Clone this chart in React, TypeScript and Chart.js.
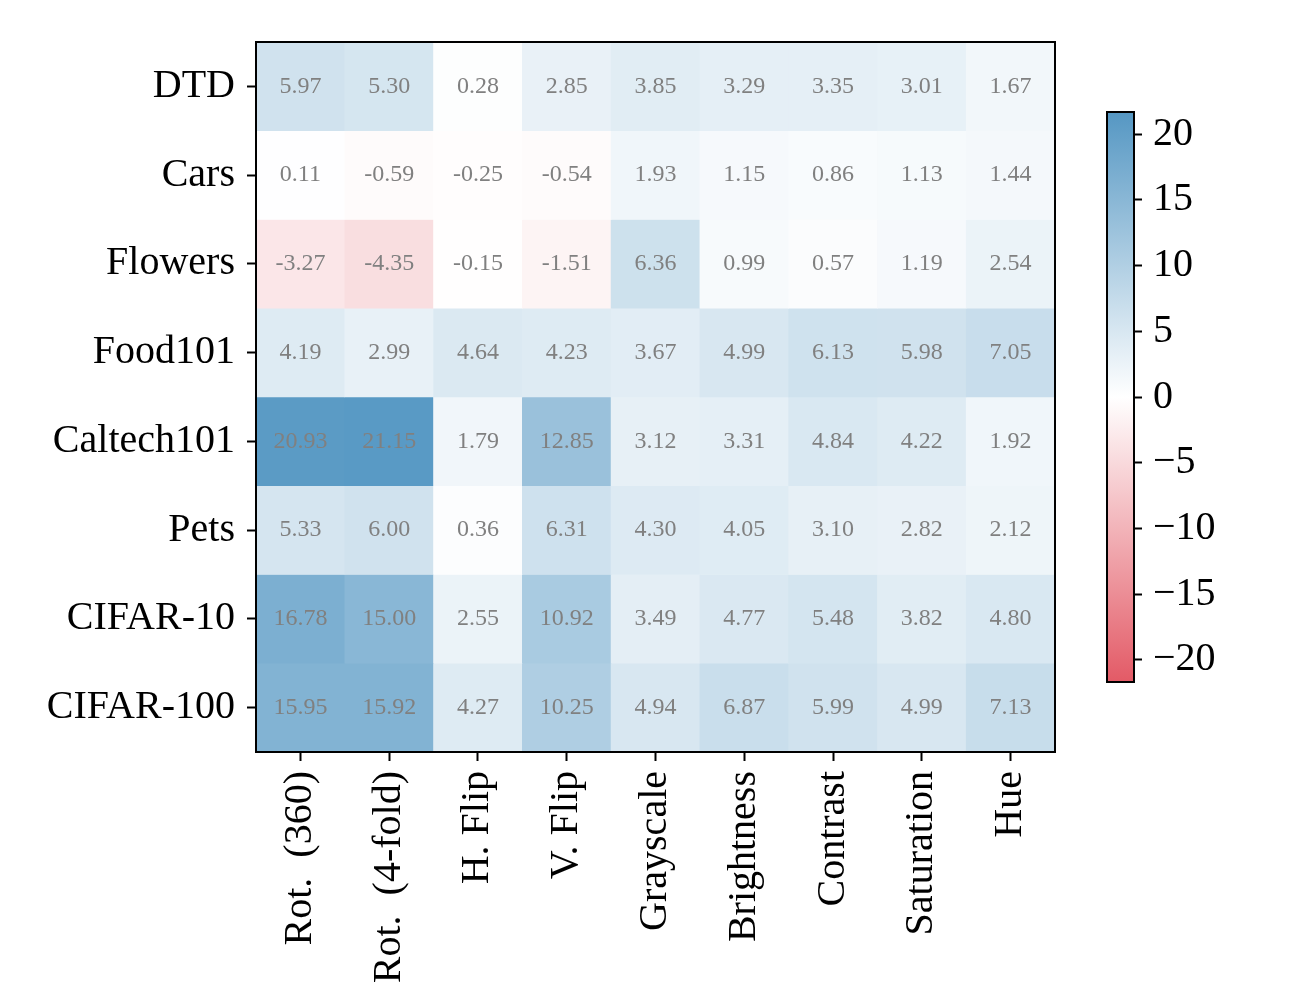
import React, { useEffect, useRef } from 'react';
import { Chart, registerables } from 'chart.js';

Chart.register(...registerables);

const rowNames = ['DTD', 'Cars', 'Flowers', 'Food101', 'Caltech101', 'Pets', 'CIFAR-10', 'CIFAR-100'];
const augmentations = ['Rot.  (360)', 'Rot.  (4-fold)', 'H. Flip', 'V. Flip', 'Grayscale', 'Brightness', 'Contrast', 'Saturation', 'Hue'];

const dtd = [5.97, 5.30, 0.28, 2.85, 3.85, 3.29, 3.35, 3.01, 1.67];
const cars = [0.11, -0.59, -0.25, -0.54, 1.93, 1.15, 0.86, 1.13, 1.44];
const flowers = [-3.27, -4.35, -0.15, -1.51, 6.36, 0.99, 0.57, 1.19, 2.54];
const food101 = [4.19, 2.99, 4.64, 4.23, 3.67, 4.99, 6.13, 5.98, 7.05];
const caltech101 = [20.93, 21.15, 1.79, 12.85, 3.12, 3.31, 4.84, 4.22, 1.92];
const pets = [5.33, 6.00, 0.36, 6.31, 4.30, 4.05, 3.10, 2.82, 2.12];
const cifar10 = [16.78, 15.00, 2.55, 10.92, 3.49, 4.77, 5.48, 3.82, 4.80];
const cifar100 = [15.95, 15.92, 4.27, 10.25, 4.94, 6.87, 5.99, 4.99, 7.13];

const rowValues = [dtd, cars, flowers, food101, caltech101, pets, cifar10, cifar100];
const colorbarTicks = [-20, -15, -10, -5, 0, 5, 10, 15, 20];
const vmax = 21.7;

const NEG = [227, 90, 102];
const POS = [85, 151, 195];
const MID = [255, 255, 255];

const FONT = 'Liberation Serif';

function colorFor(v: number): string {
  const t = Math.max(-1, Math.min(1, v / vmax));
  const end = t < 0 ? NEG : POS;
  const a = Math.abs(t);
  const c = MID.map((m, i) => Math.round(m + (end[i] - m) * a));
  return `rgb(${c[0]},${c[1]},${c[2]})`;
}

const framePlugin = {
  id: 'frame',
  afterDraw(chart: any) {
    const { ctx, chartArea } = chart;
    ctx.save();
    ctx.strokeStyle = '#000';
    ctx.lineWidth = 2;
    ctx.strokeRect(chartArea.left, chartArea.top, chartArea.right - chartArea.left, chartArea.bottom - chartArea.top);
    ctx.restore();
  },
};

const valueLabelPlugin = {
  id: 'valueLabels',
  afterDatasetsDraw(chart: any) {
    const { ctx } = chart;
    ctx.save();
    ctx.font = `24px "${FONT}"`;
    ctx.fillStyle = '#808080';
    ctx.textAlign = 'center';
    ctx.textBaseline = 'middle';
    chart.data.datasets.forEach((ds: any, di: number) => {
      const meta = chart.getDatasetMeta(di);
      meta.data.forEach((el: any, j: number) => {
        const p = el.getCenterPoint();
        const v = rowValues[di][j];
        ctx.fillText(v.toFixed(2), p.x, p.y);
      });
    });
    ctx.restore();
  },
};

export default function App() {
  const mainRef = useRef<HTMLCanvasElement | null>(null);
  const cbRef = useRef<HTMLCanvasElement | null>(null);

  useEffect(() => {
    document.body.style.margin = '0';
    const datasets = rowValues.map((vals, r) => ({
      label: rowNames[r],
      data: vals.map(() => [r, r + 1]),
      backgroundColor: vals.map((v) => colorFor(v)),
      borderWidth: 0,
      categoryPercentage: 1,
      barPercentage: 1,
      grouped: false,
    }));

    const main = new Chart(mainRef.current as HTMLCanvasElement, {
      type: 'bar',
      data: { labels: augmentations, datasets: datasets as any },
      options: {
        animation: false,
        responsive: false,
        devicePixelRatio: 1,
        layout: { padding: { left: 0, top: 42, right: 245, bottom: 0 } },
        plugins: { legend: { display: false }, tooltip: { enabled: false } },
        scales: {
          x: {
            type: 'category',
            grid: { offset: false, drawOnChartArea: false, drawTicks: true, tickLength: 9, tickColor: '#000', tickWidth: 2 },
            border: { display: false },
            ticks: { autoSkip: false, maxRotation: 90, minRotation: 90, color: '#000', padding: 10, font: { family: FONT, size: 40 } },
            afterFit(scale: any) { scale.height = 248; },
          },
          y: {
            type: 'linear',
            min: 0,
            max: 8,
            reverse: true,
            grid: { drawOnChartArea: false, drawTicks: true, tickLength: 9, tickColor: '#000', tickWidth: 2 },
            border: { display: false },
            afterBuildTicks(scale: any) {
              scale.ticks = rowNames.map((_, i) => ({ value: i + 0.5 }));
            },
            ticks: {
              color: '#000',
              padding: 12,
              font: { family: FONT, size: 40 },
              callback: (value: any) => rowNames[Math.floor(Number(value))],
            },
            afterFit(scale: any) { scale.width = 256; },
          },
        },
      },
      plugins: [valueLabelPlugin, framePlugin],
    });

    const cb = new Chart(cbRef.current as HTMLCanvasElement, {
      type: 'bar',
      data: {
        labels: [''],
        datasets: [{
          data: [[-vmax, vmax]] as any,
          borderWidth: 0,
          categoryPercentage: 1,
          barPercentage: 1,
          backgroundColor: (ctx: any) => {
            const area = ctx.chart.chartArea;
            if (!area) return '#fff';
            const g = ctx.chart.ctx.createLinearGradient(0, area.bottom, 0, area.top);
            g.addColorStop(0, colorFor(-vmax));
            g.addColorStop(0.25, colorFor(-vmax / 2));
            g.addColorStop(0.5, colorFor(0));
            g.addColorStop(0.75, colorFor(vmax / 2));
            g.addColorStop(1, colorFor(vmax));
            return g;
          },
        }],
      },
      options: {
        animation: false,
        responsive: false,
        devicePixelRatio: 1,
        layout: { padding: { left: 107, top: 112, right: 0, bottom: 318 } },
        plugins: { legend: { display: false }, tooltip: { enabled: false } },
        scales: {
          x: { display: false },
          y: {
            type: 'linear',
            position: 'right',
            min: -vmax,
            max: vmax,
            grid: { drawOnChartArea: false, drawTicks: true, tickLength: 8, tickColor: '#000', tickWidth: 2 },
            border: { display: false },
            afterBuildTicks(scale: any) {
              scale.ticks = colorbarTicks.map((v) => ({ value: v }));
            },
            ticks: {
              color: '#000',
              padding: 11,
              font: { family: FONT, size: 40 },
              callback: (value: any) => {
                const v = Number(value);
                return v < 0 ? '\u2212' + Math.abs(v) : String(v);
              },
            },
            afterFit(scale: any) { scale.width = 166; },
          },
        },
      },
      plugins: [framePlugin],
    });

    return () => {
      main.destroy();
      cb.destroy();
    };
  }, []);

  return (
    <div style={{ position: 'fixed', left: 0, top: 0, width: 1300, height: 1000, background: '#fff' }}>
      <canvas ref={mainRef} width={1300} height={1000} style={{ position: 'absolute', left: 0, top: 0 }} />
      <canvas ref={cbRef} width={300} height={1000} style={{ position: 'absolute', left: 1000, top: 0 }} />
    </div>
  );
}
